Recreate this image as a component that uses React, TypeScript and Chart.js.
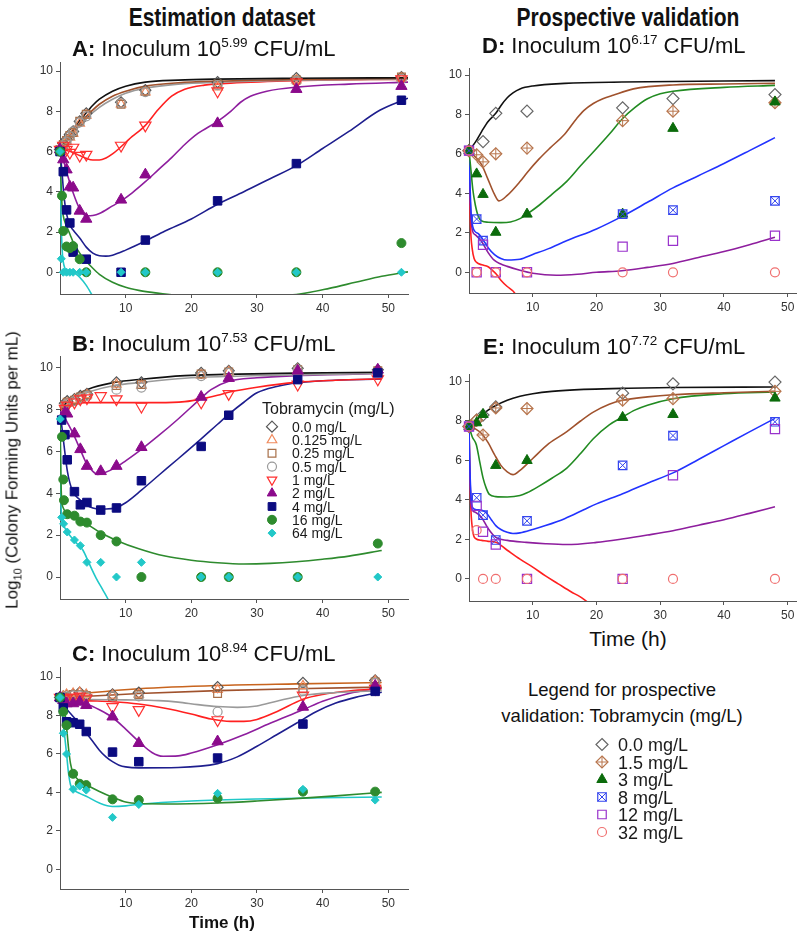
import React, { useEffect, useRef } from "react";
import { Chart, registerables } from "chart.js";

Chart.register(...registerables);

const FONT = '"Liberation Sans", Arial, Helvetica, sans-serif';
const AXIS = "#555";

// ---------------- ticks & labels ----------------
const Y_TICKS = [0, 2, 4, 6, 8, 10];
const X_TICKS = [10, 20, 30, 40, 50];
const EST_LABELS = ["0.0 mg/L", "0.125 mg/L", "0.25 mg/L", "0.5 mg/L", "1 mg/L", "2 mg/L", "4 mg/L", "16 mg/L", "64 mg/L"];
const VAL_LABELS = ["0.0 mg/L", "1.5 mg/L", "3 mg/L", "8 mg/L", "12 mg/L", "32 mg/L"];

// ---------------- Panel A (inoculum 10^5.99) ----------------
const A_T = [0, 0.5, 1, 1.5, 2, 3, 4, 9.3, 13, 24, 36, 52];
const A_Y0 = [6.1, 6.4, 6.6, 6.85, 7.0, 7.5, 7.9, 8.45, 9.05, 9.45, 9.65, 9.7];
const A_Y0125 = [6.1, 6.3, 6.5, 6.7, 6.9, 7.4, 7.8, 8.35, 8.95, 9.2, 9.55, 9.65];
const A_Y025 = [6.1, 6.35, 6.55, 6.8, 6.95, 7.5, 7.85, 8.35, 9.0, 9.35, 9.55, 9.7];
const A_Y05 = [6.1, 6.3, 6.5, 6.75, 7.0, 7.45, 7.75, 8.4, 8.95, 9.3, 9.5, 9.6];
const A_Y1 = [6.1, 6.3, 6.1, 5.95, 6.2, 5.8, 5.85, 6.3, 7.3, 9.0, 9.45, 9.6];
const A_Y2 = [6.1, 5.6, 5.1, 4.25, 4.2, 3.05, 2.65, 3.6, 4.85, 7.4, 9.1, 9.25];
const A_Y4 = [6.0, 5.0, 3.1, 2.45, 1.0, null, 0.65, 0, 1.6, 3.55, 5.4, 8.55];
const A_T16 = [0, 0.3, 0.5, 1, 1.5, 2, 3, 4, 13, 24, 36, 52];
const A_Y16 = [6.0, 3.8, 2.05, 1.28, 1.2, 1.3, 0.65, 0, 0, 0, 0, 1.45];
const A_T64 = [0, 0.2, 0.5, 1, 1.5, 2, 3, 4, 9.3, 13, 24, 36, 52];
const A_Y64 = [6.0, 0.67, 0, 0, 0, 0, 0, 0, 0, 0, 0, 0, 0];

const A_FIT_0 = [[0, 6.1], [1, 6.6], [2, 7.1], [3, 7.55], [4.2, 8.0], [5, 8.3], [6, 8.6], [8, 9.0], [10, 9.25], [13, 9.45], [18, 9.55], [24, 9.6], [36, 9.64], [53, 9.67]];
const A_FIT_025 = [[0, 6.1], [1, 6.55], [2, 7.0], [3, 7.4], [4, 7.75], [6, 8.35], [8, 8.75], [10, 9.0], [13, 9.25], [18, 9.42], [24, 9.5], [36, 9.58], [53, 9.63]];
const A_FIT_05 = [[0, 6.1], [1, 6.5], [2, 6.9], [3, 7.3], [4, 7.65], [6, 8.2], [8, 8.6], [10, 8.9], [13, 9.15], [18, 9.35], [24, 9.45], [36, 9.55], [53, 9.6]];
const A_FIT_1 = [[0, 6.1], [1, 6.05], [2, 5.95], [3, 5.8], [4, 5.66], [5, 5.58], [6, 5.58], [7, 5.68], [8, 5.88], [9, 6.15], [10, 6.45], [11, 6.75], [12, 7.0], [13, 7.3], [15, 8.1], [17, 8.75], [19, 9.1], [22, 9.3], [26, 9.4], [36, 9.52], [53, 9.6]];
const A_FIT_2 = [[0, 6.1], [0.5, 5.6], [1, 5.0], [2, 3.95], [3, 3.15], [4, 2.8], [5, 2.82], [6, 2.92], [8, 3.3], [9.3, 3.55], [11, 3.95], [13, 4.5], [15, 5.1], [17, 5.7], [19, 6.35], [21, 6.9], [24, 7.5], [26, 8.0], [27.5, 8.45], [29, 8.75], [31.5, 9.0], [36, 9.2], [44, 9.35], [53, 9.45]];
const A_FIT_4 = [[0, 6.1], [0.3, 5.0], [0.6, 3.8], [1, 2.9], [1.5, 2.35], [2, 2.1], [3, 1.7], [4, 1.25], [5, 0.95], [6, 0.82], [7, 0.8], [8, 0.85], [10, 1.1], [13, 1.55], [16, 2.05], [20, 2.65], [24, 3.38], [28, 4.0], [32, 4.65], [36, 5.3], [40, 6.15], [44, 7.0], [48.7, 8.05], [53, 8.65]];
const A_FIT_16 = [[0, 6.0], [0.15, 4.5], [0.3, 3.4], [0.5, 2.8], [1, 2.3], [1.5, 1.9], [2, 1.5], [3, 0.95], [4, 0.55], [5, 0.2], [6, -0.1], [8, -0.5], [10, -0.75], [12, -0.9], [14, -1.0], [18, -1.15], [25, -1.25], [32, -1.2], [36.5, -1.08], [41, -0.8], [45, -0.5], [49, -0.2], [53, 0.02]];
const A_FIT_64 = [[0, 6.0], [0.1, 4.0], [0.2, 2.3], [0.35, 1.0], [0.6, 0.35], [1, 0.1], [2, 0], [2.5, -0.1], [3, -0.25], [4, -0.65], [5, -1.2]];

// ---------------- Panel B (inoculum 10^7.53) ----------------
const B_T = [0.25, 0.75, 1.1, 2.2, 3.1, 4.1, 6.2, 8.6, 12.4, 21.5, 25.7, 36.2, 48.4];
const B_Y0 = [null, 8.3, 8.4, 8.5, 8.65, 8.75, null, 9.3, 9.3, 9.75, 9.85, 9.97, 9.9];
const B_Y0125 = [null, 8.25, 8.3, 8.45, 8.55, 8.7, null, 9.2, 9.15, 9.65, 9.8, 9.9, 9.85];
const B_Y025 = [null, 8.2, 8.35, 8.45, 8.6, 8.7, null, 9.15, 9.2, 9.7, 9.8, 9.9, 9.85];
const B_Y05 = [null, 8.2, 8.3, 8.4, 8.55, 8.65, null, 8.95, 9.05, 9.6, 9.75, 9.9, 9.8];
const B_Y1 = [null, 8.05, 8.2, 8.35, 8.5, 8.55, 8.65, 8.5, 8.15, 8.35, 8.75, 9.2, 9.45];
const B_Y2 = [null, 7.85, 7.8, 6.85, 6.1, 5.3, 5.05, 5.3, 6.2, 8.6, 9.5, 9.85, 9.9];
const B_Y4 = [7.5, 6.8, 5.6, 4.08, 3.45, 3.56, 3.2, 3.3, 4.6, 6.24, 7.73, 9.43, 9.75];
const B_T16 = [0.3, 0.5, 0.6, 1.1, 2.2, 3.1, 4.1, 6.2, 8.6, 12.4, 21.5, 25.7, 36.2, 48.4];
const B_Y16 = [6.7, 4.66, 3.67, 3.0, 2.93, 2.65, 2.6, 2.0, 1.7, 0, 0, 0, 0, 1.6];
const B_T64 = [0.05, 0.25, 0.55, 1.1, 2.2, 3.1, 4.1, 6.2, 8.6, 12.4, 21.5, 25.7, 36.2, 48.4];
const B_Y64 = [7.55, 2.85, 2.54, 2.15, 1.77, 1.5, 0.7, 0.7, 0, 0.7, 0, 0, 0, 0];

const B_FIT_0 = [[0, 7.95], [0.5, 8.15], [1, 8.35], [2, 8.6], [3.3, 8.83], [5, 9.05], [8.3, 9.3], [12.4, 9.45], [19, 9.62], [25, 9.68], [36, 9.74], [49, 9.78]];
const B_FIT_05 = [[0, 7.95], [0.5, 8.1], [1, 8.3], [2, 8.5], [3.3, 8.7], [5, 8.9], [8.3, 9.15], [12.4, 9.3], [19, 9.5], [25, 9.58], [36, 9.66], [49, 9.72]];
const B_FIT_1 = [[0, 7.95], [0.5, 8.1], [1, 8.2], [2, 8.28], [4, 8.33], [8, 8.33], [15, 8.33], [19, 8.38], [21.5, 8.5], [24, 8.68], [26, 8.85], [30, 9.07], [36, 9.3], [42, 9.4], [49, 9.47]];
const B_FIT_2 = [[0, 7.95], [0.5, 7.75], [1, 7.45], [2, 6.85], [3, 6.15], [4, 5.45], [5, 5.05], [5.8, 4.9], [6.5, 4.95], [8.6, 5.25], [10, 5.55], [12.4, 6.1], [15, 6.75], [18, 7.55], [21.5, 8.55], [23, 8.95], [25.7, 9.35], [30, 9.52], [36, 9.62], [49, 9.72]];
const B_FIT_4 = [[0, 7.95], [0.2, 7.4], [0.5, 6.6], [0.8, 5.8], [1.1, 5.1], [1.5, 4.5], [2, 4.05], [3, 3.7], [4, 3.45], [5, 3.3], [6, 3.25], [7, 3.25], [8.6, 3.32], [10, 3.55], [12.4, 4.15], [15, 4.85], [18, 5.65], [21.5, 6.6], [24, 7.3], [26, 7.85], [28, 8.35], [30, 8.8], [33, 9.1], [36.2, 9.28], [40, 9.38], [49, 9.46]];
const B_FIT_16 = [[0, 7.95], [0.08, 6.0], [0.15, 4.6], [0.25, 3.7], [0.5, 3.3], [1, 3.05], [2, 2.85], [3, 2.7], [4, 2.55], [6, 2.15], [8.6, 1.75], [12, 1.35], [16, 1.0], [20, 0.8], [24, 0.68], [28, 0.62], [32, 0.65], [36, 0.73], [40, 0.85], [44, 1.0], [49, 1.27]];
const B_FIT_64 = [[0, 7.95], [0.05, 6.0], [0.12, 4.0], [0.2, 3.1], [0.4, 2.65], [1, 2.2], [2, 1.8], [3, 1.45], [3.5, 1.28], [4.5, 0.6], [5.5, -0.05], [6.5, -0.6], [7.3, -1.05], [7.8, -1.4]];

// ---------------- Panel C (inoculum 10^8.94) ----------------
const C_T = [0, 0.5, 1, 2, 3, 4, 8, 12, 24, 37, 48];
const C_Y0 = [8.94, 9.0, 9.05, 9.1, 9.2, 9.05, 9.1, 9.2, 9.48, 9.7, 9.83];
const C_Y0125 = [8.94, 9.0, 9.1, 9.15, 9.2, 9.1, 9.05, 9.1, 9.35, 9.55, 9.8];
const C_Y025 = [8.94, 8.95, 9.0, 9.1, 9.1, 9.05, 9.0, 9.1, 9.15, 9.4, 9.75];
const C_Y05 = [8.94, 8.9, 9.0, 9.05, 9.05, 9.0, 9.0, 9.0, 8.2, 9.3, 9.7];
const C_Y1 = [8.94, 8.9, 8.9, 8.95, 9.0, 8.9, 8.45, 8.3, 7.77, 9.05, 9.4];
const C_Y2 = [8.94, 8.8, 8.63, 8.63, 8.71, 8.54, 7.94, 6.56, 6.65, 8.45, 9.55];
const C_Y4 = [8.94, 8.4, 7.68, 7.63, 7.55, 7.17, 6.1, 5.6, 5.79, 7.56, 9.26];
const C_Y16 = [8.94, 8.2, 7.5, 4.97, 4.45, 4.38, 3.64, 3.6, 3.69, 4.04, 4.04];
const C_Y64 = [8.94, 7.08, 6.0, 4.16, 4.33, 4.12, 2.7, 3.37, 3.95, 4.16, 3.6];

const C_FIT_0125 = [[0, 8.94], [2, 9.08], [5, 9.2], [12, 9.4], [24, 9.57], [36, 9.65], [49, 9.72]];
const C_FIT_025 = [[0, 8.94], [2, 8.97], [5, 9.02], [12, 9.15], [24, 9.3], [36, 9.4], [49, 9.48]];
const C_FIT_05 = [[0, 8.94], [4, 8.85], [10, 8.82], [15, 8.78], [18, 8.7], [21, 8.57], [24, 8.47], [27, 8.43], [30, 8.5], [33, 8.75], [37, 9.05], [42, 9.2], [49, 9.3]];
const C_FIT_1 = [[0, 8.94], [2, 8.82], [4, 8.78], [8, 8.72], [12, 8.6], [16, 8.38], [20, 8.08], [23, 7.82], [26, 7.7], [28, 7.7], [30, 7.8], [33, 8.2], [37, 8.85], [40, 9.1], [44, 9.28], [49, 9.4]];
const C_FIT_2 = [[0, 8.94], [1, 8.82], [2, 8.75], [4, 8.6], [6, 8.3], [8, 7.9], [10, 7.3], [12, 6.65], [14, 6.08], [15.7, 5.88], [18, 5.9], [20, 6.05], [24, 6.48], [28, 7.0], [32, 7.6], [37, 8.3], [40, 8.75], [44, 9.15], [49, 9.45]];
const C_FIT_4 = [[0, 8.94], [0.5, 8.6], [1, 8.35], [2, 7.95], [3, 7.55], [4, 7.1], [5, 6.65], [6, 6.2], [7, 5.85], [8, 5.6], [9, 5.42], [10, 5.33], [12, 5.28], [18, 5.3], [24, 5.5], [27, 5.85], [30, 6.4], [33, 7.0], [36, 7.6], [39, 8.2], [42, 8.65], [45, 8.95], [49, 9.22]];
const C_FIT_16 = [[0, 8.94], [0.5, 8.6], [0.8, 8.0], [1, 7.4], [1.3, 6.3], [1.6, 5.5], [2, 5.0], [2.5, 4.75], [3, 4.6], [4, 4.4], [6, 4.05], [8, 3.75], [10, 3.5], [12, 3.42], [16, 3.4], [24, 3.45], [30, 3.55], [37, 3.7], [42, 3.82], [49, 4.0]];
const C_FIT_64 = [[0, 8.94], [0.3, 8.3], [0.6, 7.3], [1, 6.0], [1.3, 5.0], [1.6, 4.4], [2, 4.15], [3, 3.95], [4, 3.8], [6, 3.45], [8, 3.27], [10, 3.3], [12, 3.38], [20, 3.55], [30, 3.66], [40, 3.72], [49, 3.76]];

// ---------------- Panel D (inoculum 10^6.17) ----------------
const D_T = [0, 1.2, 2.2, 4.2, 9.1, 24.1, 32, 48];
const D_Y0 = [6.17, null, 6.63, 8.06, 8.17, 8.34, 8.81, 9.01];
const D_Y15 = [6.17, 5.96, 5.6, 6.01, 6.3, 7.69, 8.17, 8.6];
const D_Y3 = [6.17, 4.99, 3.95, 2.03, 2.95, 2.95, 7.3, 8.64];
const D_Y8 = [6.17, 2.7, 1.61, null, null, 2.95, 3.15, 3.62];
const D_Y12 = [6.17, 0, 1.4, 0, 0, 1.3, 1.6, 1.85];
const D_Y32 = [6.17, 0, null, 0, 0, 0, 0, 0];

const D_FIT_0 = [[0, 6.17], [1, 6.6], [2, 7.15], [3, 7.65], [4.2, 8.06], [5, 8.45], [6, 8.85], [6.9, 9.1], [8, 9.3], [10, 9.45], [15, 9.58], [24, 9.65], [48, 9.72]];
const D_FIT_15 = [[0, 6.17], [0.5, 6.0], [1, 5.85], [2, 5.45], [3, 4.7], [4, 3.95], [4.7, 3.62], [6, 3.9], [8, 4.6], [9.1, 5.05], [11, 5.75], [12.7, 6.3], [15, 7.0], [16.9, 7.8], [18, 8.2], [19.5, 8.56], [21, 8.8], [22.6, 8.98], [25.8, 9.3], [32, 9.5], [40, 9.55], [48, 9.58]];
const D_FIT_3 = [[0, 6.17], [0.3, 5.2], [0.6, 4.2], [1, 3.4], [1.5, 2.8], [2, 2.6], [3, 2.54], [5, 2.52], [6.5, 2.55], [8, 2.72], [9.1, 2.95], [11, 3.4], [13, 3.95], [15.3, 4.6], [17.5, 5.4], [19.5, 6.1], [22, 7.0], [24.1, 7.8], [26, 8.35], [28, 8.8], [30, 9.05], [32, 9.18], [40, 9.38], [48, 9.48]];
const D_FIT_8 = [[0, 6.17], [0.15, 4.5], [0.35, 2.9], [0.6, 2.3], [1, 2.05], [1.5, 1.95], [2, 1.75], [3, 1.25], [4, 0.9], [5, 0.7], [6, 0.62], [8, 0.66], [10, 0.9], [12.5, 1.2], [15.3, 1.6], [20, 2.2], [24.1, 2.85], [28, 3.55], [32, 4.28], [36, 4.9], [40, 5.52], [44, 6.17], [48, 6.83]];
const D_FIT_12 = [[0, 6.17], [0.15, 4.0], [0.35, 2.6], [0.6, 2.05], [1, 1.9], [2, 1.55], [3, 1.0], [4, 0.6], [5, 0.42], [6, 0.3], [8, 0.1], [10, -0.05], [13.7, -0.15], [17, -0.1], [20, 0.0], [24, 0.08], [28, 0.25], [32, 0.45], [36, 0.75], [40, 1.05], [44, 1.4], [48, 1.78]];
const D_FIT_32 = [[0, 6.17], [0.1, 4.0], [0.25, 2.2], [0.5, 1.2], [0.8, 0.7], [1.2, 0.5], [2, 0.38], [3, 0.28], [3.5, 0.15], [4.3, -0.1], [5, -0.4], [6, -0.72], [6.9, -0.95], [7.5, -1.2]];

// ---------------- Panel E (inoculum 10^7.72) ----------------
const E_T = [0, 1.2, 2.2, 4.2, 9.1, 24.1, 32, 48];
const E_Y0 = [7.72, 8.04, 8.3, 8.71, null, 9.41, 9.88, 9.97];
const E_Y15 = [7.72, 8.04, 7.29, 8.66, 8.63, 9.05, 9.13, 9.5];
const E_Y3 = [7.72, 7.91, 8.33, 5.75, 6.0, 8.18, 8.33, 9.16];
const E_Y8 = [7.72, 4.11, 3.23, 1.97, 2.94, 5.75, 7.26, 7.96];
const E_Y12 = [7.72, 3.7, 2.39, 1.74, 0, 0, 5.25, 7.59];
const E_Y32 = [7.72, 2.47, 0, 0, 0, 0, 0, 0];

const E_FIT_0 = [[0, 7.72], [1, 8.0], [2, 8.3], [3, 8.55], [4, 8.75], [6, 9.05], [8, 9.25], [10, 9.38], [13, 9.5], [18, 9.6], [24, 9.65], [32, 9.7], [48, 9.72]];
const E_FIT_15 = [[0, 7.72], [1, 7.6], [2, 7.35], [3, 6.9], [4, 6.3], [5, 5.75], [6, 5.42], [6.9, 5.28], [8, 5.5], [10, 6.1], [12.5, 6.85], [15.3, 7.45], [17.5, 8.0], [19.5, 8.45], [22, 8.85], [24.1, 9.05], [28, 9.22], [32, 9.33], [40, 9.43], [48, 9.5]];
const E_FIT_3 = [[0, 7.72], [0.5, 7.2], [1.15, 6.8], [1.7, 5.9], [2.2, 5.12], [2.7, 4.6], [3.2, 4.28], [4.2, 4.17], [6, 4.15], [8, 4.22], [9.1, 4.36], [11, 4.7], [13, 5.1], [15.3, 5.6], [17.5, 6.35], [19.5, 7.1], [22, 7.8], [24.1, 8.2], [26, 8.55], [28, 8.8], [32, 9.13], [40, 9.38], [48, 9.47]];
const E_FIT_8 = [[0, 7.72], [0.15, 5.5], [0.35, 4.0], [0.6, 3.6], [1, 3.52], [2, 3.48], [2.7, 3.35], [3.5, 3.0], [4.2, 2.7], [5, 2.5], [6, 2.36], [6.9, 2.3], [8, 2.33], [10, 2.5], [12, 2.7], [15, 3.05], [18, 3.5], [20, 3.8], [24.1, 4.31], [28, 4.85], [32, 5.37], [36, 6.05], [40, 6.75], [44, 7.45], [48, 8.13]];
const E_FIT_12 = [[0, 7.72], [0.15, 5.2], [0.35, 3.8], [0.6, 3.45], [1, 3.38], [2, 3.1], [3, 2.55], [4.2, 2.1], [6, 1.95], [9, 1.85], [12, 1.78], [15.3, 1.74], [20, 1.85], [24, 2.02], [28, 2.22], [32, 2.44], [36, 2.72], [40, 3.0], [44, 3.32], [48, 3.65]];
const E_FIT_32 = [[0, 7.72], [0.12, 5.5], [0.3, 3.5], [0.6, 2.4], [1, 2.05], [2, 1.95], [3, 1.9], [4.2, 1.86], [6, 1.45], [8, 1.0], [10, 0.6], [12, 0.15], [14, -0.25], [16, -0.65], [17.4, -0.9], [18.5, -1.15]];

// ---------------- styles ----------------
type Mk = { shape: string; r: number; color: string; fill: boolean; rot?: number; overlay?: string; lw?: number };

const EST_MK: Mk[] = [
  { shape: "rectRot", r: 5.5, color: "#555555", fill: false },
  { shape: "triangle", r: 5.5, color: "#F08A5D", fill: false },
  { shape: "rect", r: 5.5, color: "#A8704A", fill: false },
  { shape: "circle", r: 4.5, color: "#9a9a9a", fill: false },
  { shape: "triangle", r: 6.5, color: "#FF3030", fill: false, rot: 180 },
  { shape: "triangle", r: 6.5, color: "#8B0A8B", fill: true },
  { shape: "rect", r: 6, color: "#0B0B80", fill: true },
  { shape: "circle", r: 4.5, color: "#2E8B2E", fill: true },
  { shape: "rectRot", r: 4, color: "#22C8C8", fill: true },
];
const EST_LINE = ["#111111", "#C8641E", "#A0522D", "#9a9a9a", "#FF2020", "#8E1E9E", "#1E1E8E", "#2E8B2E", "#20C8C8"];

const VAL_MK: Mk[] = [
  { shape: "rectRot", r: 6, color: "#666666", fill: false },
  { shape: "rectRot", r: 6, color: "#B8764E", fill: false, overlay: "cross" },
  { shape: "triangle", r: 6, color: "#0B6B0B", fill: true },
  { shape: "rect", r: 6, color: "#3344EE", fill: false, overlay: "crossRot" },
  { shape: "rect", r: 6.5, color: "#9932CC", fill: false },
  { shape: "circle", r: 4.5, color: "#F07070", fill: false },
];
const VAL_LINE = ["#111111", "#A0522D", "#228B22", "#2233FF", "#8E1E9E", "#FF2020"];

// ---------------- helpers ----------------
const PL = 46, PR = 8, PT = 8, PB = 26;

function obs(xs: number[], ys: (number | null)[], mk: Mk, order: number) {
  const data = xs.map((x, i) => ({ x, y: ys[i] })).filter((p) => p.y !== null && p.y !== undefined);
  const list: any[] = [
    {
      data, showLine: false, order, clip: false,
      pointStyle: mk.shape, pointRadius: mk.r, pointRotation: mk.rot || 0,
      pointBackgroundColor: mk.fill ? mk.color : "rgba(0,0,0,0)",
      pointBorderColor: mk.color, pointBorderWidth: mk.fill ? 1 : mk.lw || 1.2,
    },
  ];
  if (mk.overlay) {
    list.push({
      data, showLine: false, order: order - 0.5, clip: false,
      pointStyle: mk.overlay, pointRadius: mk.r, pointBackgroundColor: "rgba(0,0,0,0)",
      pointBorderColor: mk.color, pointBorderWidth: 1,
    });
  }
  return list;
}

function fit(pairs: number[][], color: string, order: number) {
  return {
    data: pairs.map(([x, y]) => ({ x, y })), showLine: true, pointRadius: 0,
    borderColor: color, borderWidth: 1.6, cubicInterpolationMode: "monotone", fill: false, order,
  };
}

function drawMarker(ctx: CanvasRenderingContext2D, mk: Mk, x: number, y: number, r: number) {
  ctx.save();
  ctx.beginPath();
  ctx.lineWidth = mk.fill ? 1 : 1.2;
  ctx.strokeStyle = mk.color;
  ctx.fillStyle = mk.color;
  if (mk.shape === "circle") ctx.arc(x, y, r, 0, Math.PI * 2);
  else if (mk.shape === "rect") { const s = r * Math.SQRT1_2; ctx.rect(x - s, y - s, 2 * s, 2 * s); }
  else if (mk.shape === "rectRot") { ctx.moveTo(x, y - r); ctx.lineTo(x + r, y); ctx.lineTo(x, y + r); ctx.lineTo(x - r, y); ctx.closePath(); }
  else if (mk.shape === "triangle") {
    let a = ((mk.rot || 0) * Math.PI) / 180;
    ctx.moveTo(x + Math.sin(a) * r, y - Math.cos(a) * r);
    a += (2 * Math.PI) / 3; ctx.lineTo(x + Math.sin(a) * r, y - Math.cos(a) * r);
    a += (2 * Math.PI) / 3; ctx.lineTo(x + Math.sin(a) * r, y - Math.cos(a) * r);
    ctx.closePath();
  }
  if (mk.fill) { ctx.fill(); ctx.stroke(); } else ctx.stroke();
  ctx.lineWidth = 1;
  if (mk.overlay === "cross") { ctx.beginPath(); ctx.moveTo(x, y - r); ctx.lineTo(x, y + r); ctx.moveTo(x - r, y); ctx.lineTo(x + r, y); ctx.stroke(); }
  if (mk.overlay === "crossRot") { const o = r * Math.SQRT1_2; ctx.beginPath(); ctx.moveTo(x - o, y - o); ctx.lineTo(x + o, y + o); ctx.moveTo(x + o, y - o); ctx.lineTo(x - o, y + o); ctx.stroke(); }
  ctx.restore();
}

type PanelCfg = { area: number[]; xr: number[]; yr: number[]; datasets: any[]; plugins?: any[] };

function axis(min: number, max: number, ticks: number[], fitFn: (s: any) => void) {
  return {
    type: "linear", min, max,
    afterBuildTicks: (s: any) => { s.ticks = ticks.map((v) => ({ value: v })); },
    afterFit: fitFn,
    grid: { drawOnChartArea: false, drawTicks: true, tickLength: 4, color: AXIS, lineWidth: 1 },
    border: { display: true, color: AXIS, width: 1 },
    ticks: { color: "#333", font: { size: 12, family: FONT }, padding: 3, autoSkip: false, maxRotation: 0 },
  };
}

function Panel({ cfg }: { cfg: PanelCfg }) {
  const ref = useRef<HTMLCanvasElement | null>(null);
  const [l, t, r, b] = cfg.area;
  const w = r - l + PL + PR;
  const h = b - t + PT + PB;
  useEffect(() => {
    const chart = new Chart(ref.current as HTMLCanvasElement, {
      type: "line",
      data: { datasets: cfg.datasets },
      options: {
        animation: false, responsive: false, devicePixelRatio: 1, events: [],
        layout: { padding: { top: PT, right: PR, left: 0, bottom: 0 } },
        plugins: { legend: { display: false }, tooltip: { enabled: false }, title: { display: false } },
        scales: {
          x: axis(cfg.xr[0], cfg.xr[1], X_TICKS, (s: any) => { s.height = PB; }),
          y: axis(cfg.yr[0], cfg.yr[1], Y_TICKS, (s: any) => { s.width = PL; }),
        },
      } as any,
      plugins: cfg.plugins || [],
    } as any);
    return () => chart.destroy();
  }, []);
  return <canvas ref={ref} width={w} height={h} style={{ position: "absolute", left: l - PL, top: t - PT, width: w, height: h }} />;
}

// ---------------- panel configurations ----------------
const estObs = (k: number, xs: number[], ys: (number | null)[]) => obs(xs, ys, EST_MK[k], 50 - k);
const estFit = (k: number, pairs: number[][]) => fit(pairs, EST_LINE[k], 100 + k);
const valObs = (k: number, xs: number[], ys: (number | null)[]) => obs(xs, ys, VAL_MK[k], 50 - k);
const valFit = (k: number, pairs: number[][]) => fit(pairs, VAL_LINE[k], 100 + k);

const AREA_A = [60, 60, 408, 294];
const AREA_B = [60, 354, 408, 599];
const AREA_C = [60, 665, 408, 889];
const AREA_D = [469, 66, 796, 293];
const AREA_E = [469, 372, 796, 601];

const legendB = {
  id: "legendB",
  afterDatasetsDraw(chart: any) {
    const ctx = chart.ctx as CanvasRenderingContext2D;
    const ox = AREA_B[0] - PL, oy = AREA_B[1] - PT;
    ctx.save();
    ctx.fillStyle = "#1a1a1a";
    ctx.textBaseline = "alphabetic";
    ctx.font = `16px ${FONT}`;
    ctx.fillText("Tobramycin (mg/L)", 262 - ox, 414 - oy);
    ctx.font = `14px ${FONT}`;
    EST_LABELS.forEach((lab, i) => {
      const by = 431.7 + i * 13.3 - oy;
      drawMarker(ctx, EST_MK[i], 272 - ox, by - 5, Math.min(EST_MK[i].r, 5.5));
      ctx.fillStyle = "#1a1a1a";
      ctx.fillText(lab, 292 - ox, by);
    });
    ctx.restore();
  },
};

const PANEL_A: PanelCfg = {
  area: AREA_A, xr: [0, 53], yr: [-1.08, 10.44],
  datasets: [
    ...estObs(0, A_T, A_Y0), ...estObs(1, A_T, A_Y0125), ...estObs(2, A_T, A_Y025), ...estObs(3, A_T, A_Y05),
    ...estObs(4, A_T, A_Y1), ...estObs(5, A_T, A_Y2), ...estObs(6, A_T, A_Y4), ...estObs(7, A_T16, A_Y16), ...estObs(8, A_T64, A_Y64),
    estFit(0, A_FIT_0), estFit(2, A_FIT_025), estFit(3, A_FIT_05), estFit(4, A_FIT_1), estFit(5, A_FIT_2),
    estFit(6, A_FIT_4), estFit(7, A_FIT_16), estFit(8, A_FIT_64),
  ],
};

const PANEL_B: PanelCfg = {
  area: AREA_B, xr: [0, 53], yr: [-1.05, 10.55],
  datasets: [
    ...estObs(0, B_T, B_Y0), ...estObs(1, B_T, B_Y0125), ...estObs(2, B_T, B_Y025), ...estObs(3, B_T, B_Y05),
    ...estObs(4, B_T, B_Y1), ...estObs(5, B_T, B_Y2), ...estObs(6, B_T, B_Y4), ...estObs(7, B_T16, B_Y16), ...estObs(8, B_T64, B_Y64),
    estFit(0, B_FIT_0), estFit(3, B_FIT_05), estFit(4, B_FIT_1), estFit(5, B_FIT_2),
    estFit(6, B_FIT_4), estFit(7, B_FIT_16), estFit(8, B_FIT_64),
  ],
  plugins: [legendB],
};

const PANEL_C: PanelCfg = {
  area: AREA_C, xr: [0, 53], yr: [-1.03, 10.52],
  datasets: [
    ...estObs(0, C_T, C_Y0), ...estObs(1, C_T, C_Y0125), ...estObs(2, C_T, C_Y025), ...estObs(3, C_T, C_Y05),
    ...estObs(4, C_T, C_Y1), ...estObs(5, C_T, C_Y2), ...estObs(6, C_T, C_Y4), ...estObs(7, C_T, C_Y16), ...estObs(8, C_T, C_Y64),
    estFit(1, C_FIT_0125), estFit(2, C_FIT_025), estFit(3, C_FIT_05), estFit(4, C_FIT_1), estFit(5, C_FIT_2),
    estFit(6, C_FIT_4), estFit(7, C_FIT_16), estFit(8, C_FIT_64),
  ],
};

const PANEL_D: PanelCfg = {
  area: AREA_D, xr: [0, 51.3], yr: [-1.05, 10.35],
  datasets: [
    ...valObs(0, D_T, D_Y0), ...valObs(1, D_T, D_Y15), ...valObs(2, D_T, D_Y3),
    ...valObs(3, D_T, D_Y8), ...valObs(4, D_T, D_Y12), ...valObs(5, D_T, D_Y32),
    valFit(0, D_FIT_0), valFit(1, D_FIT_15), valFit(2, D_FIT_3), valFit(3, D_FIT_8), valFit(4, D_FIT_12), valFit(5, D_FIT_32),
  ],
};

const PANEL_E: PanelCfg = {
  area: AREA_E, xr: [0, 51.3], yr: [-1.12, 10.37],
  datasets: [
    ...valObs(0, E_T, E_Y0), ...valObs(1, E_T, E_Y15), ...valObs(2, E_T, E_Y3),
    ...valObs(3, E_T, E_Y8), ...valObs(4, E_T, E_Y12), ...valObs(5, E_T, E_Y32),
    valFit(0, E_FIT_0), valFit(1, E_FIT_15), valFit(2, E_FIT_3), valFit(3, E_FIT_8), valFit(4, E_FIT_12), valFit(5, E_FIT_32),
  ],
};

function ValLegend() {
  const ref = useRef<HTMLCanvasElement | null>(null);
  const L = 560, T = 730, W = 150, H = 120;
  useEffect(() => {
    const c = ref.current as HTMLCanvasElement;
    const ctx = c.getContext("2d") as CanvasRenderingContext2D;
    ctx.clearRect(0, 0, W, H);
    ctx.font = `18px ${FONT}`;
    ctx.textBaseline = "alphabetic";
    VAL_LABELS.forEach((lab, i) => {
      const by = 751 + i * 17.5 - T;
      drawMarker(ctx, VAL_MK[i], 602 - L, by - 6.5, Math.min(VAL_MK[i].r, 6));
      ctx.fillStyle = "#1a1a1a";
      ctx.fillText(lab, 618 - L, by);
    });
  }, []);
  return <canvas ref={ref} width={W} height={H} style={{ position: "absolute", left: L, top: T, width: W, height: H }} />;
}

function Txt(props: { x: number; y: number; size: number; bold?: boolean; center?: boolean; stretch?: number; children: any }) {
  const tf: string[] = [];
  if (props.center) tf.push("translateX(-50%)");
  if (props.stretch) tf.push(`scaleY(${props.stretch})`);
  return (
    <div
      style={{
        position: "absolute", left: props.x, top: props.y, fontSize: props.size,
        fontWeight: props.bold ? 700 : 400, lineHeight: 1, whiteSpace: "nowrap",
        transform: tf.length ? tf.join(" ") : undefined, transformOrigin: "center top",
        fontFamily: FONT, color: "#111",
      }}
    >
      {props.children}
    </div>
  );
}

function PanelTitle({ x, y, letter, exp }: { x: number; y: number; letter: string; exp: string }) {
  return (
    <Txt x={x} y={y} size={22}>
      <b>{letter}:</b> Inoculum 10
      <span style={{ fontSize: 13.5, position: "relative", top: -9.5 }}>{exp}</span> CFU/mL
    </Txt>
  );
}

export default function App() {
  return (
    <div style={{ position: "absolute", left: 0, top: 0, width: 800, height: 940, background: "#fff", overflow: "hidden", fontFamily: FONT }}>
      <Panel cfg={PANEL_A} />
      <Panel cfg={PANEL_B} />
      <Panel cfg={PANEL_C} />
      <Panel cfg={PANEL_D} />
      <Panel cfg={PANEL_E} />
      <ValLegend />

      <Txt x={222} y={4} size={21} bold center stretch={1.2}>Estimation dataset</Txt>
      <Txt x={628} y={4} size={21} bold center stretch={1.2}>Prospective validation</Txt>

      <PanelTitle x={72} y={38} letter="A" exp="5.99" />
      <PanelTitle x={72} y={333} letter="B" exp="7.53" />
      <PanelTitle x={72} y={643} letter="C" exp="8.94" />
      <PanelTitle x={482} y={35} letter="D" exp="6.17" />
      <PanelTitle x={483} y={336} letter="E" exp="7.72" />

      <div
        style={{
          position: "absolute", left: 12, top: 470, transform: "translate(-50%, -50%) rotate(-90deg)",
          fontSize: 17, whiteSpace: "nowrap", lineHeight: 1, color: "#111", fontFamily: FONT,
        }}
      >
        Log<span style={{ fontSize: 11, position: "relative", top: 4 }}>10</span> (Colony Forming Units per mL)
      </div>

      <Txt x={222} y={914} size={17} bold center>Time (h)</Txt>
      <Txt x={628} y={628} size={21} center>Time (h)</Txt>

      <Txt x={622} y={681} size={18.5} center>Legend for prospective</Txt>
      <Txt x={622} y={707} size={18.5} center>validation: Tobramycin (mg/L)</Txt>
    </div>
  );
}
